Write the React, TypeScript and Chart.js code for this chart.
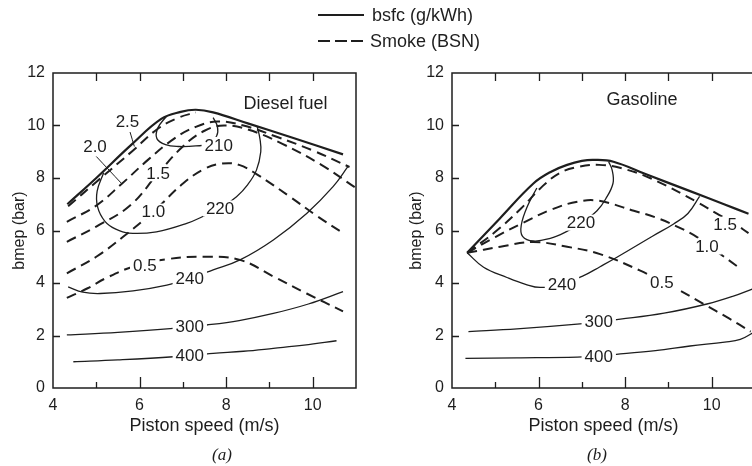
import React, { useEffect, useRef } from "react";
import { Chart, registerables } from "chart.js";
Chart.register(...registerables);

type P = [number, number];
type Lab = { x: number; y: number; text: string; size?: number; bg?: boolean };

const INK = "#1e1e1e";
const FONT = "'Liberation Sans', Arial, Helvetica, sans-serif";

// ---- axes ----
const xTickValues = [4, 6, 8, 10];
const yTickValues = [0, 2, 4, 6, 8, 10, 12];
const xMarkValues = [5, 6, 7, 8, 9, 10];
const yMarkValues = [2, 4, 6, 8, 10];

// ---- (a) Diesel fuel ----
const dieselBoundary: P[] = [[4.33, 7.0], [5.0, 8.0], [5.8, 9.25], [6.5, 10.25], [6.95, 10.52], [7.3, 10.6], [7.7, 10.5], [8.5, 10.08], [9.5, 9.55], [10.7, 8.9]];
const dieselSmoke25: P[] = [[4.35, 6.92], [5.0, 7.85], [5.85, 9.05], [6.4, 9.85], [6.9, 10.3], [7.3, 10.5]];
const dieselSmoke20: P[] = [[4.32, 6.33], [5.0, 6.95], [5.59, 7.78], [6.2, 8.7], [6.8, 9.5], [7.3, 9.95], [7.8, 10.15], [8.4, 10.0], [9.2, 9.55], [10.0, 9.05], [10.85, 8.42]];
const dieselSmoke15: P[] = [[4.32, 5.57], [5.0, 6.15], [5.78, 6.95], [6.43, 8.18], [7.0, 9.2], [7.5, 9.8], [7.95, 10.0], [8.5, 9.85], [9.3, 9.3], [10.2, 8.5], [10.97, 7.65]];
const dieselSmoke10: P[] = [[4.32, 4.37], [5.0, 5.0], [5.62, 5.76], [6.32, 6.72], [7.01, 7.8], [7.5, 8.35], [7.9, 8.55], [8.3, 8.5], [8.7, 8.15], [9.47, 7.29], [10.1, 6.55], [10.7, 5.9]];
const dieselSmoke05: P[] = [[4.32, 3.43], [4.8, 3.8], [5.24, 4.2], [5.85, 4.62], [6.6, 4.9], [7.5, 5.0], [8.32, 4.88], [9.09, 4.25], [9.86, 3.6], [10.7, 2.92]];
const dieselBsfc210: P[] = [[6.62, 10.35], [6.42, 9.9], [6.4, 9.5], [6.6, 9.27], [6.9, 9.2], [7.3, 9.22], [7.6, 9.3], [7.78, 9.6], [7.8, 9.95], [7.7, 10.3]];
const dieselBsfc220: P[] = [[5.17, 8.2], [5.02, 7.5], [5.03, 6.9], [5.2, 6.35], [5.45, 6.05], [5.75, 5.9], [6.39, 5.95], [7.09, 6.27], [7.55, 6.6], [7.86, 6.84], [8.24, 7.29], [8.5, 7.75], [8.7, 8.3], [8.8, 9.0], [8.78, 9.5], [8.72, 9.95]];
const dieselBsfc240: P[] = [[4.35, 3.85], [4.69, 3.65], [5.09, 3.6], [5.85, 3.7], [6.63, 3.92], [7.16, 4.18], [7.7, 4.5], [8.32, 4.88], [9.09, 5.64], [9.86, 6.65], [10.47, 7.67], [10.82, 8.45]];
const dieselBsfc300: P[] = [[4.32, 2.02], [5.5, 2.12], [6.78, 2.27], [7.55, 2.4], [8.3, 2.57], [9.09, 2.84], [9.9, 3.2], [10.7, 3.67]];
const dieselBsfc400: P[] = [[4.47, 1.0], [5.5, 1.07], [6.78, 1.19], [7.7, 1.32], [8.4, 1.4], [9.09, 1.51], [9.8, 1.63], [10.55, 1.8]];
const dieselLeader25: P[] = [[5.78, 9.75], [5.88, 9.2]];
const dieselLeader20: P[] = [[5.0, 8.82], [5.59, 7.78]];
const dieselLabels: Lab[] = [
  { x: 5.72, y: 10.15, text: "2.5" },
  { x: 4.97, y: 9.19, text: "2.0" },
  { x: 6.43, y: 8.18, text: "1.5", bg: true },
  { x: 6.32, y: 6.72, text: "1.0", bg: true },
  { x: 6.12, y: 4.68, text: "0.5", bg: true },
  { x: 7.83, y: 9.26, text: "210", bg: true },
  { x: 7.86, y: 6.84, text: "220", bg: true },
  { x: 7.16, y: 4.18, text: "240", bg: true },
  { x: 7.16, y: 2.34, text: "300", bg: true },
  { x: 7.16, y: 1.26, text: "400", bg: true },
  { x: 9.37, y: 10.85, text: "Diesel fuel", size: 18 },
];

// ---- (b) Gasoline ----
const gasBoundary: P[] = [[4.35, 5.15], [5.1, 6.45], [5.88, 7.79], [6.3, 8.25], [6.66, 8.5], [7.0, 8.65], [7.27, 8.69], [7.73, 8.62], [8.5, 8.13], [9.5, 7.5], [10.3, 6.99], [10.85, 6.64]];
const gasSmoke15: P[] = [[4.35, 5.15], [5.0, 5.95], [5.6, 6.85], [6.1, 7.7], [6.5, 8.2], [6.9, 8.42], [7.4, 8.5], [7.9, 8.38], [8.6, 7.98], [9.7, 7.05], [10.12, 6.64], [10.45, 6.35], [10.85, 5.9]];
const gasSmoke10: P[] = [[4.35, 5.15], [5.0, 5.75], [5.65, 6.3], [6.3, 6.8], [6.9, 7.1], [7.4, 7.13], [8.2, 6.75], [8.7, 6.5], [9.2, 6.15], [9.66, 5.75], [10.1, 5.22], [10.62, 4.6]];
const gasSmoke05: P[] = [[4.35, 5.15], [5.12, 5.38], [5.88, 5.56], [6.66, 5.38], [7.42, 5.1], [8.35, 4.47], [8.85, 4.05], [9.2, 3.77], [9.81, 3.2], [10.4, 2.65], [10.9, 2.15]];
const gasBsfc220: P[] = [[5.96, 7.62], [5.75, 6.95], [5.6, 6.2], [5.63, 5.78], [5.88, 5.6], [6.27, 5.7], [6.6, 5.92], [7.0, 6.3], [7.35, 6.75], [7.55, 7.2], [7.72, 7.8], [7.7, 8.3], [7.62, 8.62]];
const gasBsfc240: P[] = [[4.35, 5.15], [4.73, 4.6], [5.27, 4.21], [5.7, 3.95], [6.04, 3.83], [6.54, 3.96], [7.04, 4.28], [7.42, 4.62], [7.81, 4.98], [8.65, 5.8], [9.12, 6.25], [9.45, 6.65], [9.72, 7.3]];
const gasBsfc300: P[] = [[4.38, 2.15], [5.5, 2.25], [6.89, 2.43], [7.39, 2.53], [7.89, 2.62], [8.9, 2.85], [9.89, 3.2], [10.5, 3.5], [10.95, 3.78]];
const gasBsfc400: P[] = [[4.31, 1.13], [5.5, 1.15], [6.89, 1.18], [7.39, 1.22], [7.89, 1.3], [8.7, 1.42], [9.5, 1.6], [10.3, 1.75], [10.66, 1.85], [10.95, 2.1]];
const gasLabels: Lab[] = [
  { x: 10.31, y: 6.22, text: "1.5", bg: true },
  { x: 9.89, y: 5.39, text: "1.0", bg: true },
  { x: 8.85, y: 4.02, text: "0.5", bg: true },
  { x: 6.98, y: 6.3, text: "220", bg: true },
  { x: 6.54, y: 3.96, text: "240", bg: true },
  { x: 7.39, y: 2.53, text: "300", bg: true },
  { x: 7.39, y: 1.2, text: "400", bg: true },
  { x: 8.39, y: 11.02, text: "Gasoline", size: 18 },
];

const pts = (d: P[]) => d.map(([x, y]) => ({ x, y }));
const solid = (d: P[], w = 1.3) => ({ data: pts(d), showLine: true, borderColor: INK, borderWidth: w, pointRadius: 0, tension: 0.4, fill: false });
const dashed = (d: P[]) => ({ data: pts(d), showLine: true, borderColor: INK, borderWidth: 2, borderDash: [10, 6], pointRadius: 0, tension: 0.4, fill: false });

function makeFrame(labels: Lab[]) {
  return {
    id: "frame",
    afterDatasetsDraw(chart: any) {
      const { ctx, chartArea: a, scales } = chart;
      const xs = scales.x, ys = scales.y;
      ctx.save();
      ctx.strokeStyle = INK;
      ctx.lineWidth = 1.5;
      ctx.strokeRect(a.left, a.top, a.right - a.left, a.bottom - a.top);
      ctx.lineWidth = 1.3;
      ctx.beginPath();
      for (const v of xMarkValues) {
        const px = Math.round(xs.getPixelForValue(v)) + 0.5;
        ctx.moveTo(px, a.top);
        ctx.lineTo(px, a.top + 8);
        const len = v % 2 === 0 ? 11 : 6;
        ctx.moveTo(px, a.bottom);
        ctx.lineTo(px, a.bottom - len);
      }
      for (const v of yMarkValues) {
        const py = Math.round(ys.getPixelForValue(v)) + 0.5;
        ctx.moveTo(a.left, py);
        ctx.lineTo(a.left + 7, py);
      }
      ctx.stroke();
      ctx.textAlign = "center";
      ctx.textBaseline = "middle";
      for (const l of labels) {
        const px = xs.getPixelForValue(l.x);
        const py = ys.getPixelForValue(l.y);
        ctx.font = `${l.size || 17}px ${FONT}`;
        if (l.bg) {
          const w = ctx.measureText(l.text).width + 6;
          ctx.fillStyle = "#ffffff";
          ctx.fillRect(px - w / 2, py - 8, w, 16);
        }
        ctx.fillStyle = INK;
        ctx.fillText(l.text, px, py + 1);
      }
      ctx.restore();
    },
  };
}

function makeConfig(datasets: any[], labels: Lab[], yWidth: number, padRight: number, yTitlePad: number) {
  return {
    type: "scatter" as const,
    data: { datasets },
    plugins: [makeFrame(labels)],
    options: {
      responsive: false,
      animation: false as const,
      events: [],
      layout: { padding: { top: 73, right: padRight, left: 0, bottom: 0 } },
      plugins: { legend: { display: false }, tooltip: { enabled: false } },
      scales: {
        x: {
          type: "linear" as const,
          min: 4,
          max: 11,
          afterBuildTicks: (s: any) => { s.ticks = xTickValues.map((v) => ({ value: v })); },
          afterFit: (s: any) => { s.height = 78; },
          grid: { display: false, drawTicks: false },
          border: { display: false },
          ticks: { color: INK, font: { family: FONT, size: 16 }, padding: 8, maxRotation: 0, autoSkip: false },
          title: { display: true, text: "Piston speed (m/s)", color: INK, font: { family: FONT, size: 18 }, padding: { top: 0, bottom: 29 } },
        },
        y: {
          type: "linear" as const,
          min: 0,
          max: 12,
          afterBuildTicks: (s: any) => { s.ticks = yTickValues.map((v) => ({ value: v })); },
          afterFit: (s: any) => { s.width = yWidth; },
          grid: { display: false, drawTicks: false },
          border: { display: false },
          ticks: { color: INK, font: { family: FONT, size: 16 }, padding: 8, autoSkip: false },
          title: { display: true, text: "bmep (bar)", color: INK, font: { family: FONT, size: 16 }, padding: { top: yTitlePad, bottom: 0 } },
        },
      },
    },
  };
}

export default function App() {
  const leftRef = useRef<HTMLCanvasElement>(null);
  const rightRef = useRef<HTMLCanvasElement>(null);

  useEffect(() => {
    const left = new Chart(
      leftRef.current as HTMLCanvasElement,
      makeConfig(
        [
          solid(dieselBoundary, 2.2),
          dashed(dieselSmoke25),
          dashed(dieselSmoke20),
          dashed(dieselSmoke15),
          dashed(dieselSmoke10),
          dashed(dieselSmoke05),
          solid(dieselBsfc210),
          solid(dieselBsfc220),
          solid(dieselBsfc240),
          solid(dieselBsfc300),
          solid(dieselBsfc400),
          solid(dieselLeader25, 1),
          solid(dieselLeader20, 1),
        ],
        dieselLabels,
        53,
        380 - 356,
        10
      ) as any
    );
    const right = new Chart(
      rightRef.current as HTMLCanvasElement,
      makeConfig(
        [
          solid(gasBoundary, 2.2),
          dashed(gasSmoke15),
          dashed(gasSmoke10),
          dashed(gasSmoke05),
          solid(gasBsfc220),
          solid(gasBsfc240),
          solid(gasBsfc300),
          solid(gasBsfc400),
        ],
        gasLabels,
        72,
        390 - 375,
        27
      ) as any
    );
    return () => {
      left.destroy();
      right.destroy();
    };
  }, []);

  const text: React.CSSProperties = { position: "absolute", fontFamily: FONT, fontSize: 18, color: INK, lineHeight: "20px", whiteSpace: "nowrap" };
  const dash = (l: number): React.CSSProperties => ({ position: "absolute", left: l, top: 40, width: 12, height: 2, background: INK });
  const caption: React.CSSProperties = { ...text, top: 445, transform: "translateX(-50%)", fontFamily: "'Liberation Serif', 'DejaVu Serif', serif", fontStyle: "italic", fontSize: 17 };

  return (
    <div style={{ position: "fixed", left: 0, top: 0, width: 752, height: 466, overflow: "hidden", background: "#ffffff" }}>
      <canvas ref={leftRef} width={380} height={466} style={{ position: "absolute", left: 0, top: 0 }} />
      <canvas ref={rightRef} width={390} height={466} style={{ position: "absolute", left: 380, top: 0 }} />
      <div style={{ position: "absolute", left: 318, top: 14, width: 46, height: 1.5, background: INK }} />
      <div style={{ ...text, left: 372, top: 5 }}>bsfc (g/kWh)</div>
      <div style={dash(318)} />
      <div style={dash(335)} />
      <div style={dash(351)} />
      <div style={{ ...text, left: 370, top: 31 }}>Smoke (BSN)</div>
      <div style={{ ...caption, left: 222 }}>(a)</div>
      <div style={{ ...caption, left: 597 }}>(b)</div>
    </div>
  );
}
